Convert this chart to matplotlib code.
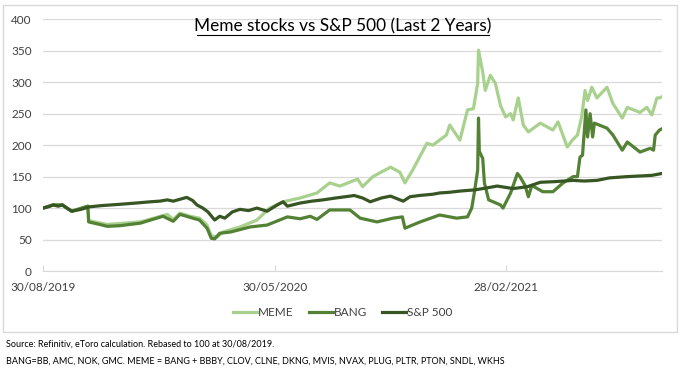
import pandas as pd
import matplotlib
matplotlib.use("Agg")
import matplotlib.pyplot as plt
import matplotlib.dates as mdates
from matplotlib.patches import Rectangle

plt.rcParams['font.family'] = ['Lato', 'DejaVu Sans']

start = pd.Timestamp('2019-08-30')

# days since 30/08/2019, values rebased to 100
sp_days = [0, 6, 12, 18, 23, 28, 34, 45, 55, 70, 91, 110, 127, 138, 147, 154, 162, 170,
           177, 182, 189, 195, 203, 209, 215, 224, 233, 243, 253, 265, 277, 284, 289,
           304, 318, 331, 346, 363, 368, 378, 387, 400, 411, 426, 434, 445, 461, 469,
           480, 493, 511, 529, 537, 556, 573, 588, 605, 627, 640, 655, 670, 691, 706,
           720, 732]
sp_vals = [100, 102, 105, 103, 105, 100, 95, 98, 102, 104, 106, 108, 110, 111, 113, 111,
           114, 117, 112, 105, 100, 94, 81, 87, 84, 94, 98, 96, 100, 95, 105, 110, 103,
           108, 111, 113, 116, 119, 120, 116, 110, 116, 119, 111, 118, 120, 122, 124,
           125, 127, 129, 133, 135, 131, 134, 141, 142, 144, 143, 144, 148, 150, 151,
           152, 155]

bang_days = [0, 12, 23, 34, 53, 54, 67, 76, 91, 115, 142, 154, 162, 177, 185, 194, 199,
             203, 209, 222, 245, 265, 289, 304, 316, 324, 339, 363, 375, 395, 414, 425,
             428, 446, 469, 489, 502, 507, 510, 514, 515, 516, 520, 522, 527, 541, 544,
             553, 561, 564, 570, 574, 578, 591, 603, 615, 627, 632, 635, 638, 642, 644,
             647, 650, 652, 667, 674, 685, 691, 706, 718, 722, 724, 729, 732]
bang_vals = [100, 105, 105, 95, 103, 78, 74, 71, 72, 76, 87, 79, 90, 84, 81, 68, 52,
             51, 60, 62, 70, 73, 86, 83, 87, 82, 97, 97, 84, 78, 84, 86,
             68, 78, 89, 84, 86, 100, 124, 160, 243, 190, 179, 140, 113, 105, 100,
             124, 155, 150, 136, 118, 136, 126, 126, 140, 150, 150, 181, 184, 256, 213,
             250, 213, 235, 227, 216, 192, 205, 189, 195, 192, 216, 224, 226]

meme_days = [0, 12, 23, 34, 53, 54, 76, 115, 147, 154, 162, 174, 185, 194, 199, 206,
             213, 233, 253, 268, 284, 304, 324, 339, 351, 372, 378, 390, 411, 422, 428,
             437, 454, 461, 469, 477, 481, 493, 502, 509, 514, 515, 520, 523, 529, 535,
             541, 547, 553, 556, 562, 568, 574, 588, 603, 609, 620, 626, 632, 637, 641,
             644, 649, 655, 667, 674, 685, 691, 706, 714, 720, 726, 729, 732]
meme_vals = [100, 105, 105, 95, 103, 80, 74, 78, 90, 82, 92, 87, 84, 73, 56, 54,
             62, 70, 81, 100, 110, 116, 124, 140, 135, 146, 134, 150, 165, 157, 140,
             160, 203, 200, 208, 216, 232, 208, 256, 258, 298, 351, 316, 287, 311, 298,
             263, 245, 250, 240, 275, 232, 221, 235, 224, 237, 197, 208, 216, 245, 287,
             271, 292, 275, 292, 266, 243, 260, 252, 260, 248, 275, 275, 277]

series = [
    ('MEME', meme_days, meme_vals, '#a9d18e'),
    ('BANG', bang_days, bang_vals, '#548235'),
    ('S&P 500', sp_days, sp_vals, '#375623'),
]

fig = plt.figure(figsize=(6.83, 3.71), dpi=100)
ax = fig.add_axes([43 / 683, 1 - 271 / 371, (662 - 43) / 683, (271 - 19.3) / 371])

for name, days, vals, col in series:
    dates = start + pd.to_timedelta(days, unit='D')
    ax.plot(dates, vals, color=col, lw=2.3, label=name, solid_joinstyle='round')

ax.set_ylim(0, 400)
ax.set_yticks(range(0, 401, 50))
ax.set_xlim(start, start + pd.Timedelta(days=732))
ticks = [start + pd.Timedelta(days=d) for d in (0, 274, 548)]
ax.set_xticks(ticks)
ax.xaxis.set_major_formatter(mdates.DateFormatter('%d/%m/%Y'))

ax.grid(axis='y', color='#d9d9d9', lw=0.9)
ax.set_axisbelow(True)
for s in ['top', 'right', 'left']:
    ax.spines[s].set_visible(False)
ax.spines['bottom'].set_color('#d9d9d9')
ax.tick_params(axis='y', length=0, pad=8, labelsize=8.5, labelcolor='#404040')
ax.tick_params(axis='x', length=4, direction='in', color='#d9d9d9', pad=8,
               labelsize=8.5, labelcolor='#404040')

fig.text(343 / 683, 1 - 26 / 371, 'Meme stocks vs S&P 500 (Last 2 Years)',
         fontsize=12.4, ha='center', va='center')
# underline under the title
fig.add_artist(plt.Line2D([197 / 683, 489 / 683], [1 - 35 / 371, 1 - 35 / 371],
                          color='black', lw=0.8))

fig.legend(loc='center', bbox_to_anchor=(343 / 683, 1 - 313 / 371), ncol=3,
           frameon=False, fontsize=8.5, handlelength=2.0, handletextpad=0.1,
           columnspacing=1.3, labelcolor='#404040')

fig.add_artist(Rectangle((3 / 683, 1 - 332 / 371), 674 / 683, 327 / 371,
                         transform=fig.transFigure, fill=False,
                         edgecolor='#d9d9d9', lw=1))

fig.text(6 / 683, 1 - 344 / 371,
         'Source: Refinitiv, eToro calculation. Rebased to 100 at 30/08/2019.',
         fontsize=6.5, va='center')
fig.text(6 / 683, 1 - 361 / 371,
         'BANG=BB, AMC, NOK, GMC. MEME = BANG + BBBY, CLOV, CLNE, DKNG, MVIS, NVAX, PLUG, PLTR, PTON, SNDL, WKHS',
         fontsize=6.5, va='center')

fig.savefig('out.png', dpi=100)
